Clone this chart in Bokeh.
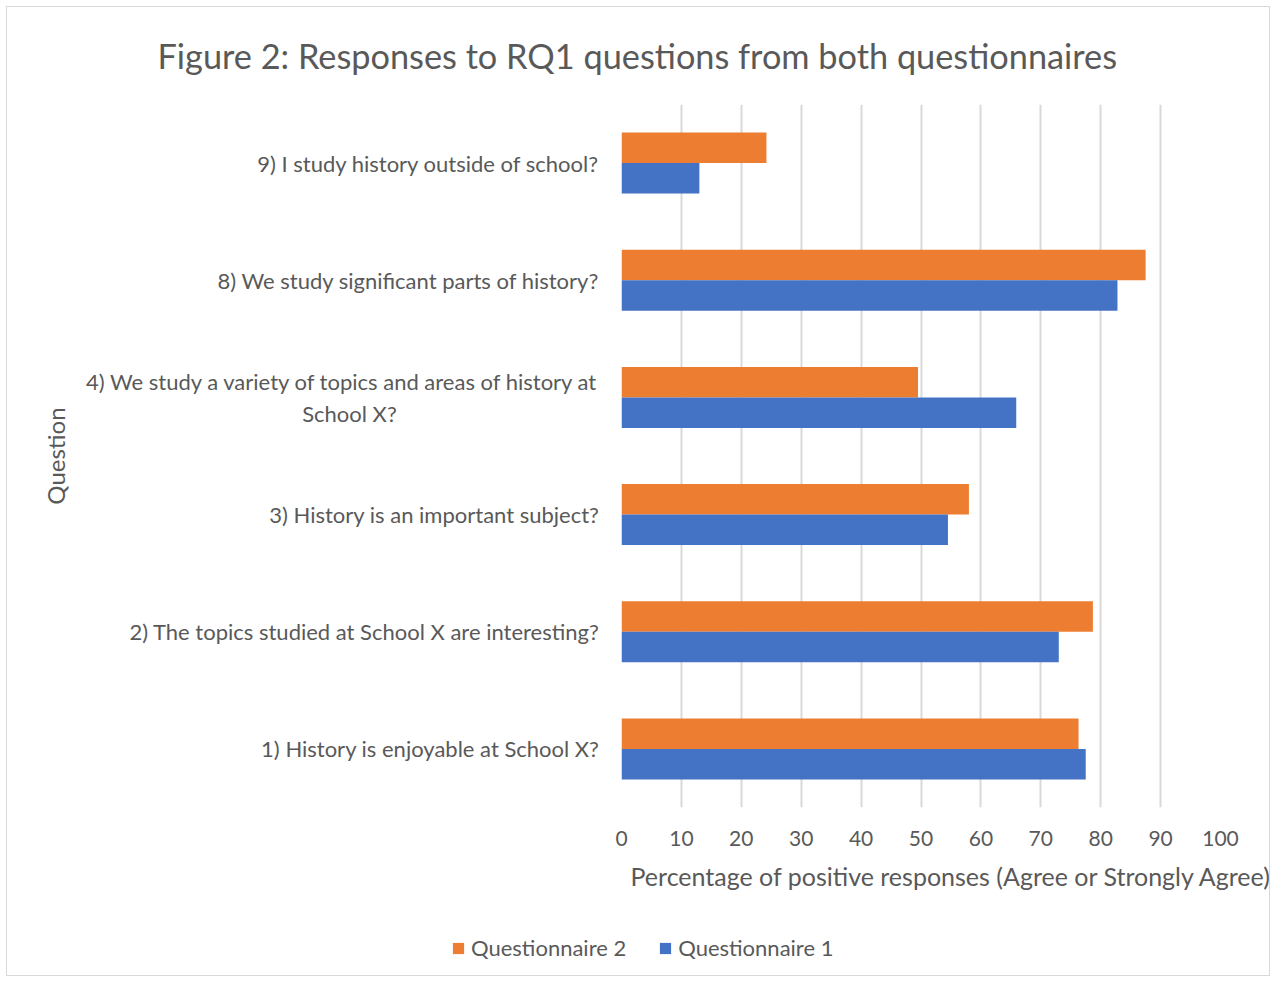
from bokeh.plotting import figure
from bokeh.layouts import column
from bokeh.models import ColumnDataSource, FactorRange, Range1d, Legend, LegendItem, FixedTicker, Title
from bokeh.transform import dodge
from bokeh.embed import file_html
from bokeh.resources import INLINE

questions = [
    "1) History is enjoyable at School X?",
    "2) The topics studied at School X are interesting?",
    "3) History is an important subject?",
    "4) We study a variety of topics and areas of history at\nSchool X?" + "\u00a0" * 36,
    "8) We study significant parts of history?",
    "9) I study history outside of school?",
]
questionnaire_1 = [77.5, 73.0, 54.5, 65.9, 82.8, 13.0]
questionnaire_2 = [76.3, 78.7, 58.0, 49.5, 87.5, 24.2]
series_names = ["Questionnaire 2", "Questionnaire 1"]
x_ticks = [0, 10, 20, 30, 40, 50, 60, 70, 80, 90, 100]

FONT = "Lato"
GREY = "#595959"
ORANGE = "#ED7D31"
BLUE = "#4472C4"

W, H1, H2 = 1262, 908, 60
source = ColumnDataSource(dict(q=questions, q1=questionnaire_1, q2=questionnaire_2))

p = figure(width=W, height=H1, y_range=FactorRange(factors=questions), x_range=Range1d(0, 100),
           output_backend="svg", toolbar_location=None,
           min_border_left=614, min_border_right=49, min_border_top=97, min_border_bottom=108)

p.hbar(y=dodge("q", 0.13, range=p.y_range), right="q2", left=0, height=0.26,
       source=source, fill_color=ORANGE, line_color=None)
p.hbar(y=dodge("q", -0.13, range=p.y_range), right="q1", left=0, height=0.26,
       source=source, fill_color=BLUE, line_color=None)

p.outline_line_color = None
p.ygrid.grid_line_color = None
p.xgrid.ticker = FixedTicker(ticks=x_ticks)
p.xgrid.grid_line_color = "#D9D9D9"
p.xgrid.grid_line_width = 2

p.xaxis.ticker = FixedTicker(ticks=x_ticks)
for ax in (p.xaxis[0], p.yaxis[0]):
    ax.axis_line_color = None
    ax.major_tick_line_color = None
    ax.minor_tick_line_color = None
    ax.major_label_text_font = FONT
    ax.major_label_text_color = GREY
    ax.axis_label_text_font = FONT
    ax.axis_label_text_font_size = "24px"
    ax.axis_label_text_color = GREY
    ax.axis_label_text_font_style = "normal"

p.xaxis.major_label_text_font_size = "21px"
p.yaxis.major_label_text_font_size = "22px"
p.xaxis.major_label_standoff = 17
p.yaxis.major_label_standoff = 16
p.yaxis.axis_label = "Question"
p.yaxis.axis_label_standoff = 13

p.title = Title(text="Figure 2: Responses to RQ1 questions from both questionnaires",
                align="left", offset=-464, vertical_align="top", text_font=FONT,
                text_font_size="34.3px", text_color=GREY, text_font_style="normal", standoff=54)

xlabel = Title(text="Percentage of positive responses (Agree or Strongly Agree)",
               align="left", offset=9, text_font=FONT, text_font_size="25px",
               text_color=GREY, text_font_style="normal", standoff=20)
p.add_layout(xlabel, "below")

# legend strip below the chart (legend keys only; their glyphs have no visible data)
nan = float("nan")
leg = figure(width=W, height=H2, x_range=Range1d(0, 1), y_range=Range1d(0, 1),
             output_backend="svg", toolbar_location=None, frame_align=False,
             min_border_left=0, min_border_right=0, min_border_top=0, min_border_bottom=0)
leg.axis.visible = False
leg.grid.visible = False
leg.outline_line_color = None
g2 = leg.quad(left=[nan], right=[nan], top=[nan], bottom=[nan], fill_color=ORANGE, line_color=None)
g1 = leg.quad(left=[nan], right=[nan], top=[nan], bottom=[nan], fill_color=BLUE, line_color=None)
legend = Legend(items=[LegendItem(label=series_names[0], renderers=[g2]),
                       LegendItem(label=series_names[1], renderers=[g1])],
                location=(444, 14), orientation="horizontal",
                glyph_width=14, glyph_height=14, label_standoff=6, spacing=32,
                padding=0, margin=0, border_line_color=None, background_fill_alpha=0,
                label_text_font=FONT, label_text_font_size="22px", label_text_color=GREY)
leg.add_layout(legend, "center")

layout = column(p, leg, spacing=0, styles={"border": "1px solid #d9d9d9", "margin": "6px"})

open("out.html", "w").write(file_html(layout, INLINE))
